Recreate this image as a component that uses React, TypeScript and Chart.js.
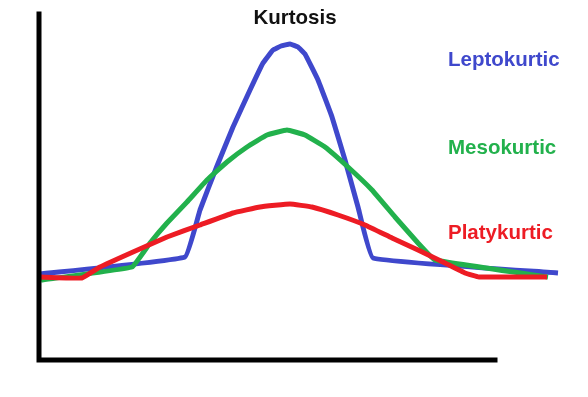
import React, { useEffect, useRef } from "react";
import { Chart, registerables } from "chart.js";

Chart.register(...registerables);

// Values (x: distance from the y axis, y: height above the x axis)
const leptoX = [1, 146, 161, 178, 194, 211, 224, 234, 242, 251, 259, 266, 279, 293, 306, 319, 334, 519];
const leptoY = [86, 103, 150, 194, 233, 270, 297, 310, 314, 316, 313, 306, 280, 243, 200, 153, 102, 87];

const mesoX = [2, 93, 111, 128, 148, 168, 188, 208, 228, 248, 266, 286, 309, 333, 356, 379, 396, 509];
const mesoY = [80, 93, 117, 137, 158, 180, 198, 213, 225, 230, 225, 213, 193, 170, 143, 117, 100, 83];

const platyX = [1, 43, 61, 94, 128, 161, 194, 221, 251, 273, 299, 326, 353, 379, 406, 426, 440, 508];
const platyY = [83, 82, 93, 108, 123, 135, 147, 153, 156, 153, 145, 135, 122, 110, 97, 87, 83, 83];

const axisX = [0, 0, 456];
const axisY = [346, 0, 0];

const seriesNames = ["Leptokurtic", "Mesokurtic", "Platykurtic"];
const seriesColors = ["#3F48CC", "#22B14C", "#ED1C24"];
const titleText = "Kurtosis";

const toPts = (xs: number[], ys: number[]) => xs.map((x, i) => ({ x, y: ys[i] }));

const textPlugin = {
  id: "textLabels",
  afterDatasetsDraw(chart: any) {
    const { ctx, scales } = chart;
    const xs = scales.x;
    const ys = scales.y;
    ctx.save();
    ctx.textBaseline = "alphabetic";
    ctx.font = "bold 20.5px 'Liberation Sans', Arial, sans-serif";
    ctx.textAlign = "center";
    ctx.fillStyle = "#111111";
    ctx.fillText(titleText, xs.getPixelForValue(256), ys.getPixelForValue(336));
    ctx.textAlign = "left";
    const labelY = [294, 206, 121];
    seriesNames.forEach((n, i) => {
      ctx.fillStyle = seriesColors[i];
      ctx.fillText(n, xs.getPixelForValue(409), ys.getPixelForValue(labelY[i]));
    });
    ctx.restore();
  },
};

export default function App() {
  const ref = useRef<HTMLCanvasElement | null>(null);
  useEffect(() => {
    if (!ref.current) return;
    const common = {
      borderWidth: 5,
      pointRadius: 0,
      fill: false,
      clip: false as any,
      tension: 0.08,
      borderJoinStyle: "round" as any,
    };
    const chart = new Chart(ref.current, {
      type: "line",
      data: {
        datasets: [
          { ...common, label: "axes", data: toPts(axisX, axisY), borderColor: "#000000", tension: 0, borderJoinStyle: "miter" as any, borderCapStyle: "square" as any },
          { ...common, label: seriesNames[2], data: toPts(platyX, platyY), borderColor: seriesColors[2] },
          { ...common, label: seriesNames[1], data: toPts(mesoX, mesoY), borderColor: seriesColors[1] },
          { ...common, label: seriesNames[0], data: toPts(leptoX, leptoY), borderColor: seriesColors[0] },
        ],
      },
      options: {
        animation: false,
        responsive: false,
        layout: { padding: { left: 39, right: 0, top: 0, bottom: 37 } },
        plugins: { legend: { display: false }, title: { display: false }, tooltip: { enabled: false } },
        scales: {
          x: { type: "linear", min: 0, max: 549, display: false },
          y: { type: "linear", min: 0, max: 360, display: false },
        },
      },
      plugins: [textPlugin],
    });
    return () => chart.destroy();
  }, []);
  return (
    <div style={{ position: "fixed", left: 0, top: 0, width: 588, height: 397, background: "#ffffff" }}>
      <canvas ref={ref} width={588} height={397} />
    </div>
  );
}
